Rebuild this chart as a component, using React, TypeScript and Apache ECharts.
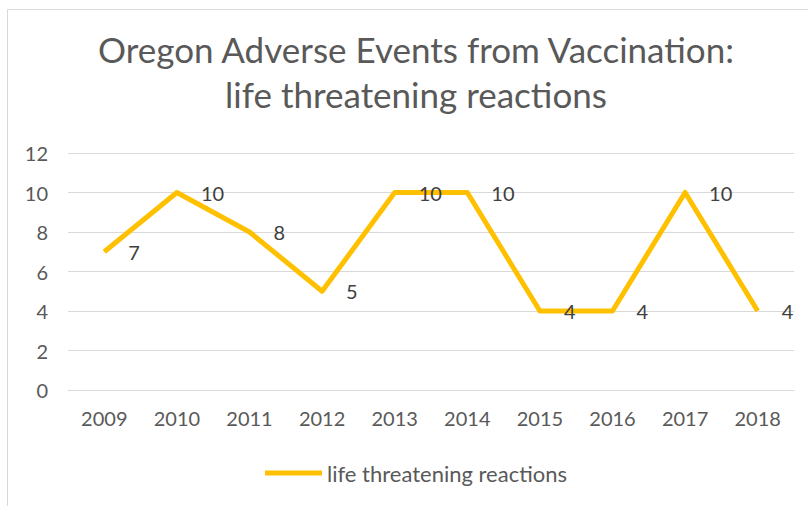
import React, { useEffect, useRef } from "react";
import * as echarts from "echarts";

const categories = ["2009", "2010", "2011", "2012", "2013", "2014", "2015", "2016", "2017", "2018"];
const reactions = [7, 10, 8, 5, 10, 10, 4, 4, 10, 4];
const seriesName = "life threatening reactions";
const titleLines = ["Oregon Adverse Events from Vaccination:", "life threatening reactions"];

const FONT = "Lato, 'Open Sans', sans-serif";

export default function App() {
  const ref = useRef<HTMLDivElement>(null);
  useEffect(() => {
    document.body.style.margin = "0";
    const chart = echarts.init(ref.current!, null, { renderer: "svg" });
    chart.setOption({
      animation: false,
      backgroundColor: "#ffffff",
      textStyle: { fontFamily: FONT },
      graphic: [
        { type: "line", shape: { x1: 7.5, y1: 9.5, x2: 808, y2: 9.5 }, style: { stroke: "#d9d9d9", lineWidth: 1 } },
        { type: "line", shape: { x1: 7.5, y1: 9.5, x2: 7.5, y2: 506 }, style: { stroke: "#d9d9d9", lineWidth: 1 } },
        {
          type: "text", x: 416, y: 66,
          style: { text: titleLines[0], fill: "#595959", font: `35px ${FONT}`, textAlign: "center", textVerticalAlign: "bottom" },
        },
        {
          type: "text", x: 416, y: 111,
          style: { text: titleLines[1], fill: "#595959", font: `35px ${FONT}`, textAlign: "center", textVerticalAlign: "bottom" },
        },
      ],
      legend: {
        left: 260,
        top: 457,
        data: [{ name: seriesName, icon: "rect" }],
        itemWidth: 57,
        itemHeight: 5,
        itemGap: 5,
        textStyle: { color: "#595959", fontSize: 22, fontFamily: FONT },
      },
      grid: { left: 68, right: 14, top: 153, bottom: 116 },
      xAxis: {
        type: "category",
        data: categories,
        boundaryGap: true,
        axisLine: { show: true, lineStyle: { color: "#d9d9d9" } },
        axisTick: { show: false },
        axisLabel: { color: "#595959", fontSize: 20, margin: 18, fontFamily: FONT },
        splitLine: { show: false },
      },
      yAxis: {
        type: "value",
        min: 0,
        max: 12,
        interval: 2,
        axisLine: { show: false },
        axisTick: { show: false },
        axisLabel: { color: "#595959", fontSize: 20, margin: 20, fontFamily: FONT },
        splitLine: { lineStyle: { color: "#d9d9d9", width: 1 } },
      },
      series: [
        {
          name: seriesName,
          type: "line",
          data: reactions,
          symbol: "circle",
          symbolSize: 0,
          showSymbol: true,
          lineStyle: { color: "#FFC000", width: 5, join: "round" },
          itemStyle: { color: "#FFC000" },
          label: {
            show: true,
            position: "right",
            distance: 24,
            color: "#404040",
            fontSize: 20,
            fontFamily: FONT,
          },
        },
      ],
    });
    return () => chart.dispose();
  }, []);
  return <div ref={ref} style={{ width: 808, height: 506 }} />;
}
